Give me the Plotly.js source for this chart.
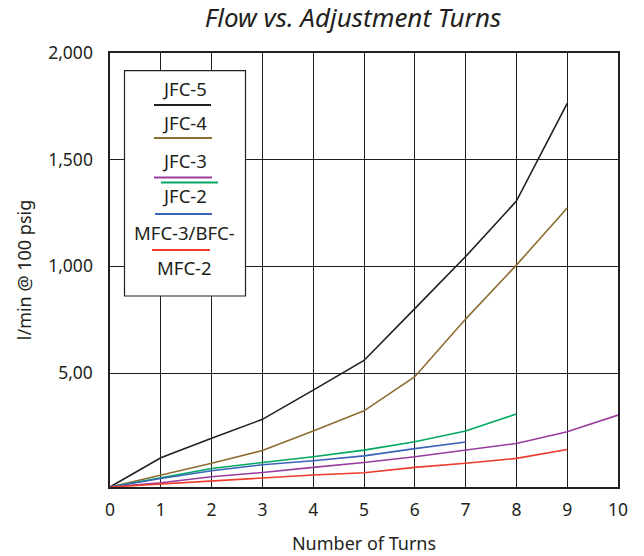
<!DOCTYPE html>
<html>
<head>
<meta charset="utf-8">
<script src="https://cdn.plot.ly/plotly-3.0.1.min.js"></script>
<style>body{margin:0;background:#fff}#chart{width:644px;height:556px}</style>
</head>
<body>
<div id="chart"></div>
<script>
// ---- data ----
const turns = [0,1,2,3,4,5,6,7,8,9,10];
const seriesNames = ["JFC-5","JFC-4","JFC-3","JFC-2","MFC-3/BFC-","MFC-2"];
const seriesColors = ["#231f20","#8c6d31","#993c9c","#00a862","#3a64b8","#ee3b2b"];
const jfc5 = [-34,103,194,283,420,559,802,1046,1306,1764];
const jfc4 = [-34,22,77,137,228,323,483,753,1006,1274];
const jfc3 = [-34,-14,14,34,58,81,108,139,170,225,303];
const jfc2 = [-34,11,53,81,108,139,178,228,308];
const mfc3 = [-34,6,42,70,89,112,146,177];
const mfc2 = [-34,-20,-5,11,22,33,58,77,100,142];
const seriesValues = [jfc5,jfc4,jfc3,jfc2,mfc3,mfc2];
const yTickVals = [500,1000,1500,2000];
const yTickText = ["5,00","1,000","1,500","2,000"];
const xTickVals = [0,1,2,3,4,5,6,7,8,9,10];

const font = "Noto Sans, Open Sans, sans-serif";
const traces = seriesValues.map((v,i)=>({
  x: turns.slice(0,v.length), y: v, type:"scatter", mode:"lines",
  name: seriesNames[i], line:{color:seriesColors[i], width:1.6}, showlegend:false
}));

// custom legend (text above a short coloured line), in paper coords
const L = {l:110, t:53, w:508, h:434};
const px = x => (x - L.l)/L.w;
const py = y => (L.t + L.h - y)/L.h;
const shapes = [{type:"rect", xref:"paper", yref:"paper", x0:px(124.5), x1:px(245.5), y0:py(296), y1:py(70.7),
  line:{color:"#231f20", width:1.2}, fillcolor:"#fff", layer:"above"}];
const annotations = [];
const textY = [88,123,160,196,232,267];
seriesNames.forEach((n,i)=>{
  annotations.push({xref:"paper", yref:"paper", x:px(184), y:py(textY[i]), text:n, showarrow:false,
    xanchor:"center", yanchor:"middle", font:{family:font, size:18.5, color:"#231f20"}});
});
const legendLines = [
  {c:0, y:105, x0:154, x1:211},
  {c:1, y:138, x0:154, x1:212},
  {c:2, y:177.5, x0:154, x1:212},
  {c:3, y:182.5, x0:161, x1:218},
  {c:4, y:214, x0:155, x1:212},
  {c:5, y:250, x0:152, x1:210}
];
legendLines.forEach(d=>{
  shapes.push({type:"line", xref:"paper", yref:"paper", x0:px(d.x0), x1:px(d.x1), y0:py(d.y), y1:py(d.y),
    line:{color:seriesColors[d.c], width:1.8}, layer:"above"});
});

const layout = {
  width:644, height:556,
  margin:{l:110, r:26, t:53, b:69},
  paper_bgcolor:"#fff", plot_bgcolor:"#fff",
  font:{family:font, color:"#231f20"},
  title:{text:"<i>Flow vs. Adjustment Turns</i>", font:{family:font, size:26, color:"#231f20"},
    x:px(353), xref:"paper", xanchor:"center", y:1-18/556, yref:"container", yanchor:"middle"},
  xaxis:{range:[0,10], tickvals:xTickVals, ticks:"", showgrid:true, gridcolor:"#1e1e1e", gridwidth:1,
    zeroline:false, showline:true, linecolor:"#231f20", linewidth:1.6, mirror:true,
    tickfont:{family:font, size:17.5, color:"#231f20"}, ticklabelstandoff:6,
    title:{text:"Number of Turns", font:{family:font, size:18, color:"#231f20"}, standoff:18}},
  yaxis:{range:[-34,2000], tickvals:yTickVals, ticktext:yTickText, ticks:"", showgrid:true, gridcolor:"#1e1e1e", gridwidth:1,
    zeroline:false, showline:true, linecolor:"#231f20", linewidth:1.6, mirror:true,
    tickfont:{family:font, size:17.5, color:"#231f20"}, ticklabelstandoff:12,
    title:{text:"l/min @ 100 psig", font:{family:font, size:18, color:"#231f20"}, standoff:12}},
  shapes, annotations, showlegend:false
};
Plotly.newPlot("chart", traces, layout, {displayModeBar:false, staticPlot:true});
</script>
</body>
</html>
